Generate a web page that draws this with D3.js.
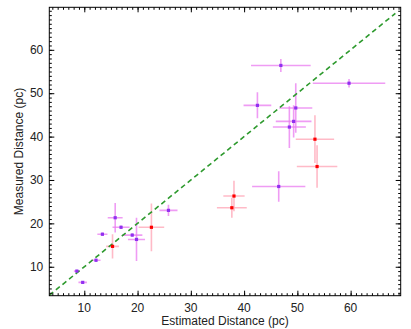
<!DOCTYPE html>
<html>
<head>
<meta charset="utf-8">
<script src="https://cdn.jsdelivr.net/npm/d3@7"></script>
<style>
  body { margin: 0; background: #fff; }
  svg { display: block; font-family: "Liberation Sans", Arial, sans-serif; }
</style>
</head>
<body>
<svg class="dist-chart" width="411" height="329"></svg>
<script>
// estimated vs measured distance (pc)
var estimated = [8.6, 9.7, 12.2, 13.4, 15.3, 15.8, 16.9, 19.0, 19.8, 22.6, 25.8,
                 37.7, 38.1, 46.5, 53.7, 53.3, 48.5, 49.3, 49.7, 42.5, 59.7, 46.9];
var measured  = [9.0, 6.4, 11.5, 17.5, 14.7, 21.3, 19.1, 17.3, 16.3, 19.1, 23.0,
                 23.6, 26.3, 28.5, 33.1, 39.4, 42.2, 43.5, 46.6, 47.2, 52.3, 56.4];
var estErr    = [0.55, 0.8, 0.85, 0.95, 1.2, 1.4, 1.6, 1.9, 1.6, 2.4, 1.7,
                 2.8, 2.0, 5.0, 3.8, 3.6, 3.1, 3.35, 3.1, 2.6, 6.8, 5.6];
var measErr   = [0.3, 0.3, 0.4, 0.4, 2.8, 3.4, 0.4, 0.4, 5.0, 5.5, 1.3,
                 2.3, 3.5, 3.5, 4.9, 5.5, 4.8, 3.7, 5.7, 3.0, 1.0, 1.5];
var flagged   = [0, 0, 0, 0, 1, 0, 0, 0, 0, 1, 0,
                 1, 1, 0, 1, 1, 0, 0, 0, 0, 0, 0];
var xTicks = [10, 20, 30, 40, 50, 60];
var yTicks = [10, 20, 30, 40, 50, 60];

var svg = d3.select(".dist-chart");
var margin = {left: 49.3, right: 10.3, top: 7.3, bottom: 33.3};
var width = +svg.attr("width"), height = +svg.attr("height");

var x = d3.scaleLinear().domain([3.43, 69.4]).range([margin.left, width - margin.right]);
var y = d3.scaleLinear().domain([3.33, 69.8]).range([height - margin.bottom, margin.top]);

var points = estimated.map(function(d, i) {
    return {est: d, meas: measured[i], ex: estErr[i], ey: measErr[i], bad: flagged[i]};
});

svg.append("clipPath").attr("id", "plot-clip")
    .append("rect")
    .attr("x", x.range()[0]).attr("y", y.range()[1])
    .attr("width", x.range()[1] - x.range()[0])
    .attr("height", y.range()[0] - y.range()[1]);

var plot = svg.append("g").attr("clip-path", "url(#plot-clip)");

// error bars
var bars = plot.append("g").attr("class", "errbars")
    .selectAll("g").data(points).enter().append("g")
    .attr("stroke", function(d) { return d.bad ? "#ffb3c1" : "#e97bf0"; })
    .attr("stroke-opacity", function(d) { return d.bad ? 0.9 : 0.75; })
    .attr("stroke-width", 1.6);

bars.append("line")
    .attr("x1", function(d) { return x(d.est - d.ex); })
    .attr("x2", function(d) { return x(d.est + d.ex); })
    .attr("y1", function(d) { return y(d.meas); })
    .attr("y2", function(d) { return y(d.meas); });

bars.append("line")
    .attr("x1", function(d) { return x(d.est); })
    .attr("x2", function(d) { return x(d.est); })
    .attr("y1", function(d) { return y(d.meas - d.ey); })
    .attr("y2", function(d) { return y(d.meas + d.ey); });

// one-to-one line
plot.append("line")
    .attr("x1", x(3.43)).attr("y1", y(3.43))
    .attr("x2", x(68.4)).attr("y2", y(68.4))
    .attr("stroke", "#2e9a2e")
    .attr("stroke-width", 1.6)
    .attr("stroke-dasharray", "5,3.5");

plot.append("g").attr("class", "pts")
    .selectAll("rect").data(points).enter().append("rect")
    .attr("x", function(d) { return x(d.est) - 1.6; })
    .attr("y", function(d) { return y(d.meas) - 1.6; })
    .attr("width", 3.2).attr("height", 3.2)
    .attr("fill", function(d) { return d.bad ? "#ff0000" : "#9030f0"; });

// frame with inward ticks on all four sides
function tickSide(axisGen, transform) {
    svg.append("g").attr("transform", transform).call(axisGen)
        .call(function(g) { g.select(".domain").remove(); g.selectAll("text").remove(); })
        .selectAll("line").attr("stroke", "#000");
}
var minorX = d3.range(4, 70, 1), minorY = d3.range(4, 70, 1);
var bottom = height - margin.bottom, right = width - margin.right;

tickSide(d3.axisTop(x).tickValues(minorX).tickSize(2.5), "translate(0," + bottom + ")");
tickSide(d3.axisTop(x).tickValues(xTicks).tickSize(5), "translate(0," + bottom + ")");
tickSide(d3.axisBottom(x).tickValues(minorX).tickSize(2.5), "translate(0," + margin.top + ")");
tickSide(d3.axisBottom(x).tickValues(xTicks).tickSize(5), "translate(0," + margin.top + ")");
tickSide(d3.axisRight(y).tickValues(minorY).tickSize(2.5), "translate(" + margin.left + ",0)");
tickSide(d3.axisRight(y).tickValues(yTicks).tickSize(5), "translate(" + margin.left + ",0)");
tickSide(d3.axisLeft(y).tickValues(minorY).tickSize(2.5), "translate(" + right + ",0)");
tickSide(d3.axisLeft(y).tickValues(yTicks).tickSize(5), "translate(" + right + ",0)");

svg.append("rect")
    .attr("x", margin.left).attr("y", margin.top)
    .attr("width", right - margin.left).attr("height", bottom - margin.top)
    .attr("fill", "none").attr("stroke", "#000").attr("stroke-width", 1);

// tick labels
svg.append("g").selectAll("text").data(xTicks).enter().append("text")
    .attr("x", function(d) { return x(d); })
    .attr("y", bottom + 16)
    .attr("text-anchor", "middle")
    .attr("font-size", 12).attr("fill", "#222")
    .text(function(d) { return d; });

svg.append("g").selectAll("text").data(yTicks).enter().append("text")
    .attr("x", margin.left - 6)
    .attr("y", function(d) { return y(d); })
    .attr("dy", "0.35em")
    .attr("text-anchor", "end")
    .attr("font-size", 12).attr("fill", "#222")
    .text(function(d) { return d; });

svg.append("text")
    .attr("x", (margin.left + right) / 2)
    .attr("y", bottom + 29)
    .attr("text-anchor", "middle")
    .attr("font-size", 12).attr("fill", "#222")
    .text("Estimated Distance (pc)");

svg.append("text")
    .attr("transform", "translate(23," + ((margin.top + bottom) / 2) + ") rotate(-90)")
    .attr("text-anchor", "middle")
    .attr("font-size", 12).attr("fill", "#222")
    .text("Measured Distance (pc)");
</script>
</body>
</html>
